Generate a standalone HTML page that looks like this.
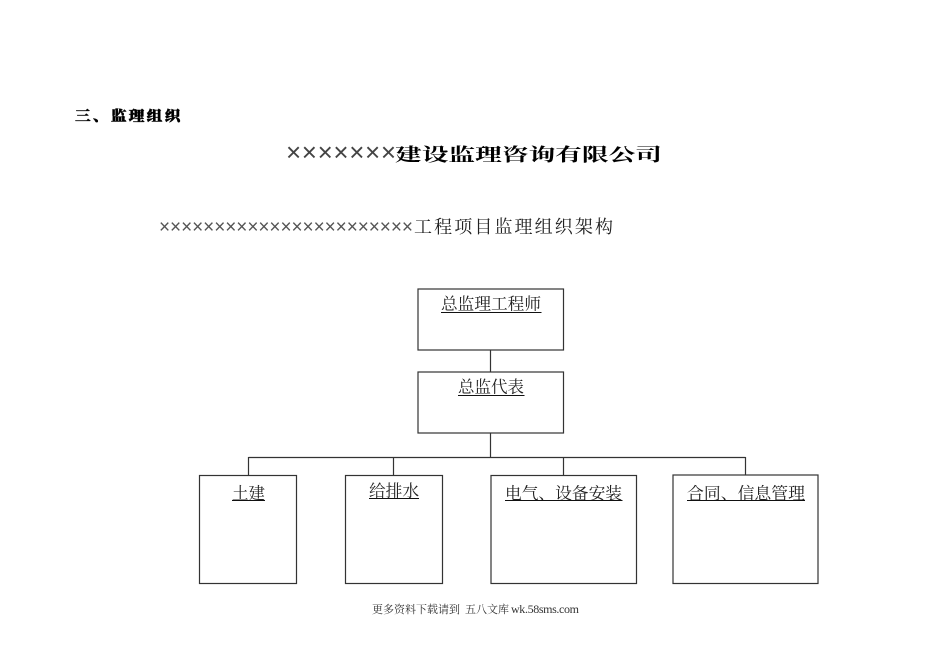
<!DOCTYPE html>
<html lang="zh">
<head>
<meta charset="utf-8">
<style>
html,body{margin:0;padding:0;background:#fff;width:950px;height:672px;overflow:hidden}
svg{display:block}
text{font-family:"Liberation Serif","Noto Serif CJK SC",serif;fill:#111}
.c{font-family:"Noto Serif CJK SC",serif;font-size:16.5px;fill:#222}
</style>
</head>
<body>
<svg width="950" height="672" viewBox="0 0 950 672" xmlns="http://www.w3.org/2000/svg">
<g transform="translate(75 121) scale(1.12 1)">
<text x="0" y="0" font-size="14" font-weight="900" textLength="94" lengthAdjust="spacing" style="font-family:'Noto Serif CJK SC',serif;fill:#000;stroke:#000;stroke-width:.45">三、监理组织</text>
</g>
<text x="286" y="161" font-size="26" textLength="110" lengthAdjust="spacing" style="font-family:'Liberation Sans',sans-serif;fill:#444">×××××××</text>
<text x="395" y="161" font-size="18" font-weight="700" textLength="267" lengthAdjust="spacingAndGlyphs" style="font-family:'Noto Serif CJK SC',serif;fill:#000">建设监理咨询有限公司</text>
<text x="159" y="233" font-size="19" textLength="254" lengthAdjust="spacing" style="font-family:'Liberation Sans',sans-serif;fill:#555">×××××××××××××××××××××××</text>
<text x="414" y="233" font-size="18" textLength="199" lengthAdjust="spacing" style="font-family:'Noto Serif CJK SC',serif;fill:#222">工程项目监理组织架构</text>

<g fill="none" stroke="#333" stroke-width="1.2">
<rect x="418" y="289" width="145.500" height="61"/>
<rect x="418" y="372" width="145.500" height="61"/>
<rect x="199.500" y="475.500" width="97" height="108"/>
<rect x="345.500" y="475.500" width="97" height="108"/>
<rect x="491" y="475.500" width="145.500" height="108"/>
<rect x="673" y="475" width="145" height="108.500"/>
<path d="M490.500 350V372M490.500 433V457M248.500 457.500H745.500M248.500 457V475M393.500 457V475M563.500 457V475M745.500 457V475"/>
</g>

<text x="441" y="309.500" class="c" textLength="100" lengthAdjust="spacingAndGlyphs">总监理工程师</text>
<text x="458" y="392.500" class="c" textLength="66" lengthAdjust="spacingAndGlyphs">总监代表</text>
<text x="232" y="499" class="c" textLength="33" lengthAdjust="spacingAndGlyphs">土建</text>
<text x="369" y="496.500" class="c" textLength="50" lengthAdjust="spacingAndGlyphs">给排水</text>
<text x="505" y="499" class="c" textLength="117" lengthAdjust="spacingAndGlyphs">电气、设备安装</text>
<text x="687" y="499" class="c" textLength="118" lengthAdjust="spacingAndGlyphs">合同、信息管理</text>
<path stroke="#111" stroke-width="1" fill="none" d="M441 312.500H541.500M458 395.500H524.500M232 500.500H265M369 498.500H419M505 500.500H622.500M687 500.500H805"/>

<text x="372" y="613" font-size="11" textLength="88" lengthAdjust="spacing" style="fill:#333">更多资料下载请到</text>
<text x="465" y="613" font-size="11" textLength="44" lengthAdjust="spacing" style="fill:#333">五八文库</text>
<text x="511" y="613" font-size="12" textLength="68" lengthAdjust="spacing" style="fill:#333">wk.58sms.com</text>
</svg>
</body>
</html>
